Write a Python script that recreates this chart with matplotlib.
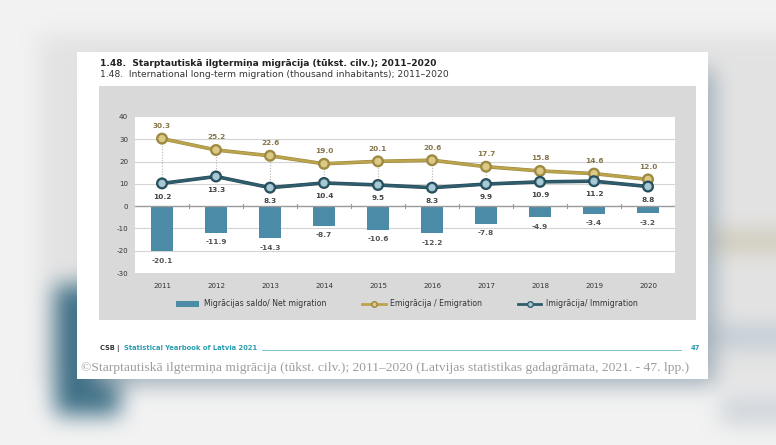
import matplotlib.pyplot as plt
import matplotlib.patheffects as pe
from matplotlib.patches import Rectangle, Patch
from matplotlib.lines import Line2D
import numpy as np

years = ["2011", "2012", "2013", "2014", "2015", "2016", "2017", "2018", "2019", "2020"]
net_migration = [-20.1, -11.9, -14.3, -8.7, -10.6, -12.2, -7.8, -4.9, -3.4, -3.2]
emigration = [30.3, 25.2, 22.6, 19.0, 20.1, 20.6, 17.7, 15.8, 14.6, 12.0]
immigration = [10.2, 13.3, 8.3, 10.4, 9.5, 8.3, 9.9, 10.9, 11.2, 8.8]

title_lv = "1.48.  Starptautiskā ilgtermiņa migrācija (tūkst. cilv.); 2011–2020"
title_en = "1.48.  International long-term migration (thousand inhabitants); 2011–2020"
caption = ("©Starptautiskā ilgtermiņa migrācija (tūkst. cilv.); 2011–2020 "
           "(Latvijas statistikas gadagrāmata, 2021. - 47. lpp.)")

W, H = 776, 445
c_bar = "#4b8ba7"
c_emi = "#bba44c"
c_emi_face = "#dcc983"
c_imm = "#2f5d6d"
c_imm_face = "#a6c9d4"


def px(x, y, w, h):
    # pixel box (top-left origin) -> figure fraction
    return [x / W, 1 - (y + h) / H, w / W, h / H]


def blur(img, n=21, passes=3):
    k = np.ones(n) / n
    p = n // 2
    for _ in range(passes):
        for axis in (0, 1):
            pad = [(0, 0)] * 3
            pad[axis] = (p, p)
            q = np.pad(img, pad, mode="edge")
            img = np.apply_along_axis(lambda r: np.convolve(r, k, mode="valid"), axis, q)
    return img


fig = plt.figure(figsize=(W / 100, H / 100), dpi=100)

# blurred screen background
bg = np.ones((H, W, 3)) * 0.89
bg[:35, :] = 0.95
bg[385:, :] = 0.95
bg[:, :40] = 0.95
bg[285:415, 55:120] = [0.25, 0.44, 0.53]
bg[395:425, 720:776] = [0.82, 0.84, 0.86]
bg[232:250, 712:776] = [0.80, 0.78, 0.70]
bg[328:345, 712:776] = [0.72, 0.78, 0.82]
bg[70:385, 95:714] = [0.62, 0.68, 0.72]
bg = blur(bg)
bga = fig.add_axes([0, 0, 1, 1])
bga.imshow(np.clip(bg, 0, 1), aspect="auto", extent=[0, 1, 0, 1])
bga.axis("off")

# page and chart panel
fig.patches.append(Rectangle(px(77, 52, 631, 327)[:2], 631 / W, 327 / H,
                             transform=fig.transFigure, facecolor="white", zorder=1))
fig.patches.append(Rectangle(px(99, 86, 597, 234)[:2], 597 / W, 234 / H,
                             transform=fig.transFigure, facecolor="#d9d9d9", zorder=1))

fig.text(100 / W, 1 - 63 / H, title_lv, fontsize=6.6, fontweight="bold",
         color="#222222", va="center", zorder=3)
fig.text(100 / W, 1 - 74.5 / H, title_en, fontsize=6.6, color="#333333",
         va="center", zorder=3)

ax = fig.add_axes(px(135, 117, 540, 156))
ax.set_zorder(2)
x = np.arange(len(years))

ax.bar(x, net_migration, width=0.39, color=c_bar, zorder=3)
for i in x:
    ax.plot([i, i], [immigration[i], emigration[i]], ls=(0, (1, 1.5)),
            color="#b5b5b5", lw=0.8, zorder=2)
stroke_emi = [pe.Stroke(linewidth=2.6, foreground="#9c8840"), pe.Normal()]
stroke_imm = [pe.Stroke(linewidth=2.6, foreground="#244955"), pe.Normal()]
ax.plot(x, emigration, color=c_emi, lw=1.8, marker="o", ms=6, mfc=c_emi_face,
        mec="#a08c45", mew=0.8, zorder=4, path_effects=stroke_emi)
ax.plot(x, immigration, color=c_imm, lw=1.8, marker="o", ms=6, mfc=c_imm_face,
        mec=c_imm, mew=0.8, zorder=4, path_effects=stroke_imm)

for i in x:
    ax.annotate(f"{emigration[i]:.1f}", (i, emigration[i]), xytext=(0, 9),
                textcoords="offset points", ha="center", va="center",
                fontsize=5.3, fontweight="bold", color="#857548")
    ax.annotate(f"{immigration[i]:.1f}", (i, immigration[i]), xytext=(0, -9.5),
                textcoords="offset points", ha="center", va="center",
                fontsize=5.3, fontweight="bold", color="#444444")
    ax.annotate(f"{net_migration[i]:.1f}", (i, net_migration[i]), xytext=(0, -7),
                textcoords="offset points", ha="center", va="center",
                fontsize=5.3, fontweight="bold", color="#555555")

ax.set_xlim(-0.5, len(years) - 0.5)
ax.set_ylim(-30, 40)
ax.set_yticks(range(-30, 41, 10))
ax.set_yticklabels([str(v) for v in range(-30, 41, 10)])
for v in range(-20, 31, 10):
    if v != 0:
        ax.axhline(v, color="#d4d4d4", lw=0.8, zorder=1)
ax.axhline(0, color="#9a9a9a", lw=1.0, zorder=3)
for b in np.arange(0.5, len(years) - 0.5, 1):
    ax.plot([b, b], [-0.9, 0.9], color="#9a9a9a", lw=0.8, zorder=3)
ax.set_xticks(x)
ax.set_xticklabels(years)
ax.tick_params(length=0, labelsize=5.1, labelcolor="#333333")
ax.tick_params(axis="y", pad=5)
ax.tick_params(axis="x", pad=7)
for s in ax.spines.values():
    s.set_visible(False)
ax.set_facecolor("white")

handles = [Patch(facecolor=c_bar),
           Line2D([], [], color=c_emi, lw=2, marker="o", ms=4, mfc=c_emi_face, mec="#9a8640"),
           Line2D([], [], color=c_imm, lw=2, marker="o", ms=4, mfc=c_imm_face, mec=c_imm)]
labels = ["Migrācijas saldo/ Net migration", "Emigrācija / Emigration",
          "Imigrācija/ Immigration"]
leg = fig.legend(handles, labels, loc="center", bbox_to_anchor=(407 / W, 1 - 304 / H),
                 ncol=3, frameon=False, fontsize=5.6, handlelength=3.0,
                 handleheight=0.8, columnspacing=4.6, handletextpad=0.6)
for t in leg.get_texts():
    t.set_color("#333333")
leg.set_zorder(3)

# footer
fig.text(100 / W, 1 - 348 / H, "CSB |", fontsize=4.8, fontweight="bold",
         color="#333333", va="center", zorder=3)
fig.text(124 / W, 1 - 348 / H, "Statistical Yearbook of Latvia 2021", fontsize=4.9,
         fontweight="bold", color="#2b9db2", va="center", zorder=3)
fig.add_artist(Line2D([262 / W, 681 / W], [1 - 350 / H, 1 - 350 / H],
                      color="#7cc4d0", lw=0.7, zorder=3))
fig.text(691 / W, 1 - 348 / H, "47", fontsize=4.9, fontweight="bold",
         color="#2b9db2", va="center", zorder=3)
fig.text(81 / W, 1 - 368 / H, caption, fontsize=9.7, family="Liberation Serif",
         color="#9c9c9c", va="center", zorder=3)

fig.savefig("out.png", dpi=100)
